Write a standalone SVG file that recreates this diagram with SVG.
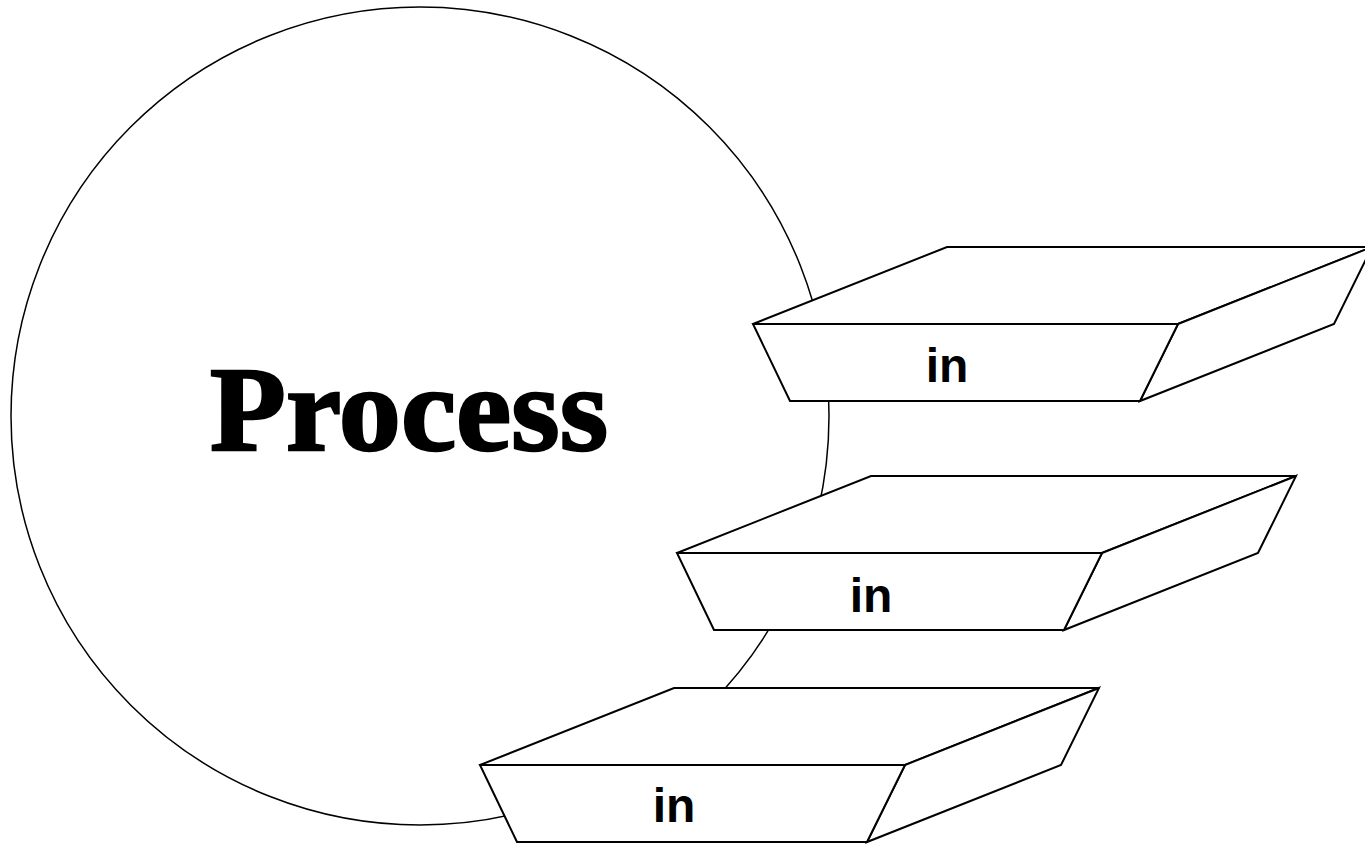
<svg xmlns="http://www.w3.org/2000/svg" width="1365" height="844" viewBox="0 0 1365 844">
<style>
.box{fill:#fff;stroke:#000;stroke-width:2;stroke-linejoin:miter}
.lbl{font-family:"Liberation Sans",Arial,sans-serif;font-weight:bold;font-size:48px;text-anchor:middle;fill:#000}
.title{font-family:"Liberation Serif","Times New Roman",serif;font-weight:bold;font-size:120px;fill:#000;stroke:#000;stroke-width:2.5}
</style>
<defs>
<g id="slab">
<polygon class="box" points="0,0 194,-77 619,-77 425,0"/>
<polygon class="box" points="425,0 619,-77 581,0 387,77"/>
<polygon class="box" points="0,0 425,0 387,77 37,77"/>
</g>
</defs>
<rect width="1365" height="844" fill="#fff"/>
<g id="process">
<circle cx="420" cy="416" r="409" fill="#fff" stroke="#000" stroke-width="1.5"/>
<text class="title" x="210" y="450" textLength="398" lengthAdjust="spacingAndGlyphs">Process</text>
</g>
<g id="connectors"></g>
<g id="in1">
<use href="#slab" x="753" y="324"/>
<text class="lbl" x="947" y="382">in</text>
</g>
<g id="in2">
<use href="#slab" x="677" y="553"/>
<text class="lbl" x="871" y="612">in</text>
</g>
<g id="in3">
<use href="#slab" x="480" y="765"/>
<text class="lbl" x="674" y="822">in</text>
</g>
</svg>
